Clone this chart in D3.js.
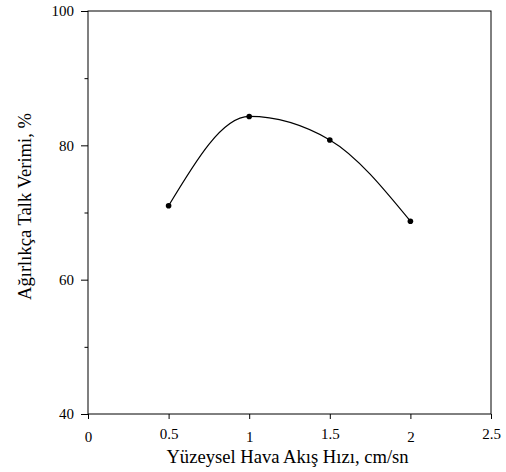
<!DOCTYPE html>
<html>
<head>
<meta charset="utf-8">
<script src="https://cdn.jsdelivr.net/npm/d3@7"></script>
<style>
  body { margin: 0; background: #fff; }
  svg { display: block; font-family: "Liberation Serif", "Times New Roman", serif; }
  .axis path, .axis line { stroke: #000; }
  .axis text { fill: #000; }
  .axis-label { fill: #000; font-size: 18.6px; }
</style>
</head>
<body>
<div id="visualization"><svg></svg></div>
<script>
const velocity = [0.5, 1, 1.5, 2];
const talkYield = [71.0, 84.3, 80.8, 68.7];

const xTicks = [0, 0.5, 1, 1.5, 2, 2.5];
const yTicks = [40, 60, 80, 100];
const yMinorTicks = [50, 70, 90];

const xLabel = 'Yüzeysel Hava Akış Hızı, cm/sn';
const yLabel = 'Ağırlıkça Talk Verimi, %';

const data = velocity.map((v, i) => ({ x: v, y: talkYield[i] }));

const width = 506;
const height = 472;
const margin = { left: 88, right: 15, top: 11, bottom: 58 };
const innerWidth = width - margin.left - margin.right;
const innerHeight = height - margin.top - margin.bottom;
const serif = '"Liberation Serif", "Times New Roman", serif';

const svg = d3.select('#visualization svg')
  .attr('width', width)
  .attr('height', height);

const xScale = d3.scaleLinear()
  .domain([0, 2.5])
  .range([0, innerWidth]);

const yScale = d3.scaleLinear()
  .domain([40, 100])
  .range([innerHeight, 0]);

const g = svg.append('g')
  .attr('transform', `translate(${margin.left},${margin.top})`);

// frame
g.append('rect')
  .attr('width', innerWidth)
  .attr('height', innerHeight)
  .attr('fill', 'none')
  .attr('stroke', '#000')
  .attr('stroke-width', 1);

const xAxis = d3.axisBottom(xScale)
  .tickValues(xTicks)
  .tickSize(5)
  .tickPadding(12)
  .tickFormat(d3.format('~g'));

const xAxisG = g.append('g')
  .attr('class', 'axis')
  .attr('transform', `translate(0,${innerHeight})`)
  .call(xAxis)
  .attr('font-family', serif)
  .attr('font-size', 15);
xAxisG.select('.domain').remove();
// the half-step labels sit a little higher than the whole ones
xAxisG.selectAll('.tick text')
  .attr('dy', null)
  .attr('y', d => Number.isInteger(d) ? 27.7 : 25.3);

const yAxis = d3.axisLeft(yScale)
  .tickValues(yTicks)
  .tickSize(7)
  .tickPadding(7);

const yAxisG = g.append('g')
  .attr('class', 'axis')
  .call(yAxis)
  .attr('font-family', serif)
  .attr('font-size', 15);
yAxisG.select('.domain').remove();

const yMinorG = g.append('g')
  .attr('class', 'axis')
  .call(d3.axisLeft(yScale).tickValues(yMinorTicks).tickSize(3.5).tickFormat(''));
yMinorG.select('.domain').remove();

g.append('text')
  .attr('class', 'axis-label')
  .attr('x', innerWidth / 2 - 2)
  .attr('y', innerHeight + 49)
  .attr('text-anchor', 'middle')
  .text(xLabel);

g.append('text')
  .attr('class', 'axis-label')
  .attr('transform', 'rotate(-90)')
  .attr('x', -innerHeight / 2 + 6)
  .attr('y', -57)
  .attr('text-anchor', 'middle')
  .text(yLabel);

const line = d3.line()
  .x(d => xScale(d.x))
  .y(d => yScale(d.y))
  .curve(d3.curveMonotoneX);

g.append('path')
  .datum(data)
  .attr('fill', 'none')
  .attr('stroke', '#000')
  .attr('stroke-width', 1.2)
  .attr('d', line);

g.selectAll('circle').data(data)
  .enter().append('circle')
    .attr('cx', d => xScale(d.x))
    .attr('cy', d => yScale(d.y))
    .attr('r', 2.8)
    .attr('fill', '#000');
</script>
</body>
</html>
